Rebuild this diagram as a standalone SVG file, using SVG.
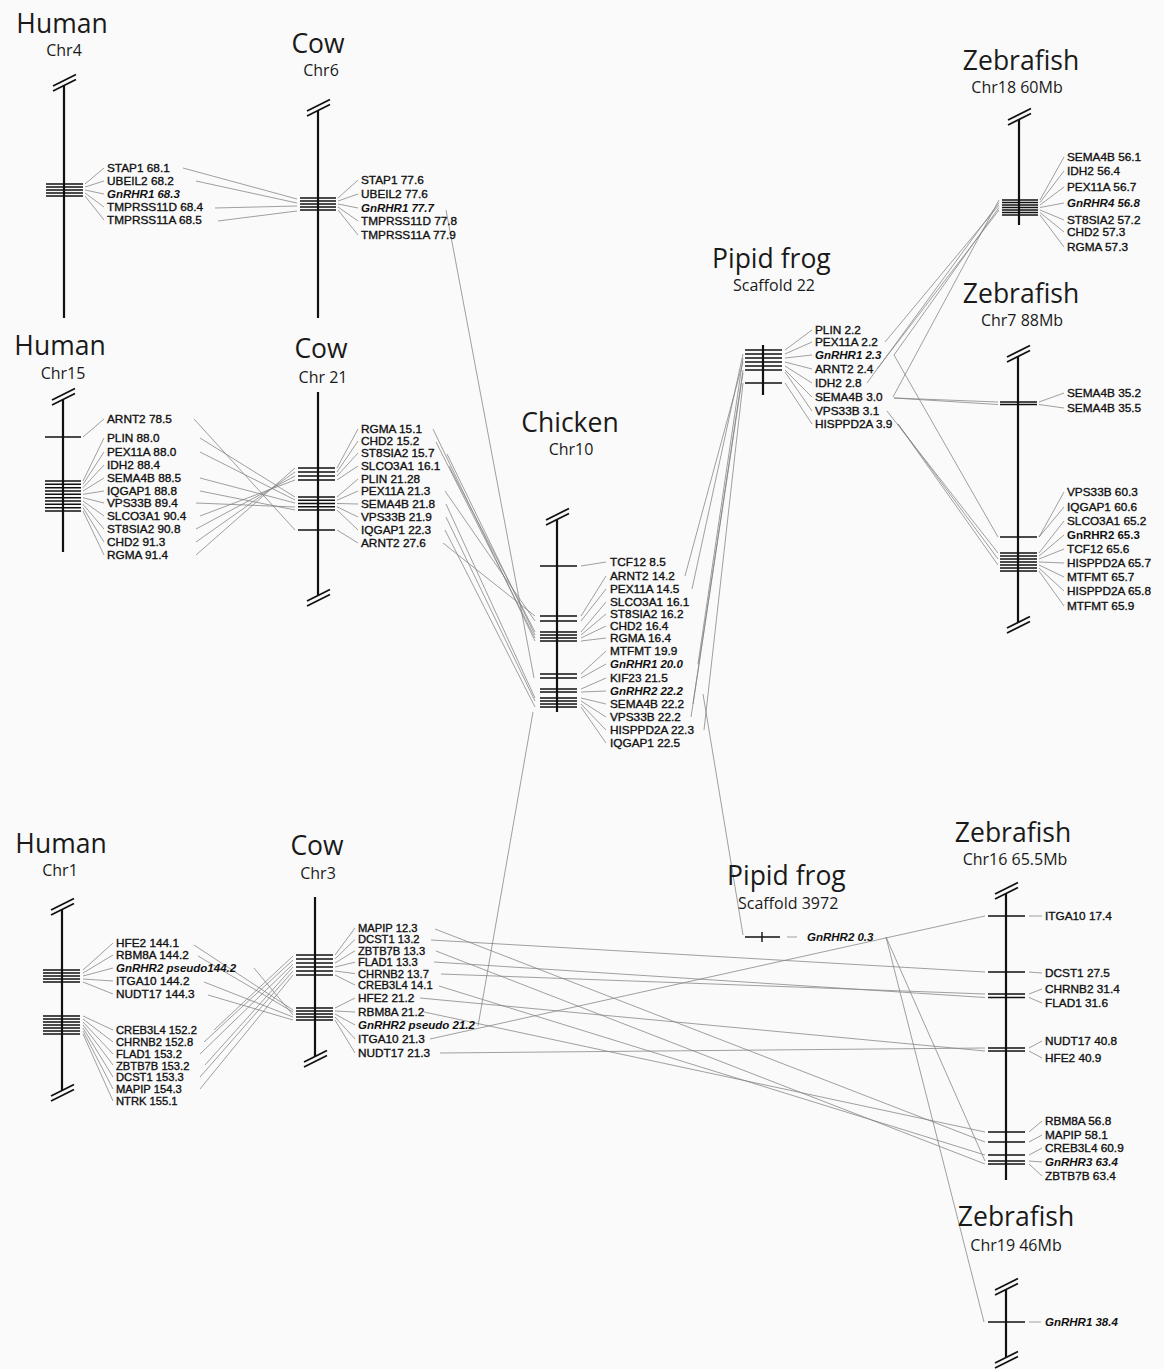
<svg xmlns="http://www.w3.org/2000/svg" xmlns:xlink="http://www.w3.org/1999/xlink" width="1164" height="1369" viewBox="0 0 1164 1369">
<style>
.t{font-family:"Open Sans","Noto Sans",sans-serif;font-size:26.5px;fill:#1a1a1a;text-anchor:middle}
.tl{font-family:"Open Sans","Noto Sans",sans-serif;font-size:26.5px;fill:#1a1a1a}
.s{font-family:"Open Sans","Noto Sans",sans-serif;font-size:16px;fill:#1a1a1a;text-anchor:middle}
.sl{font-family:"Open Sans","Noto Sans",sans-serif;font-size:16px;fill:#1a1a1a}
.g{font-family:"Liberation Sans",Arial,sans-serif;font-size:11.8px;fill:#111;stroke:#111;stroke-width:0.35px}
.g2{font-family:"Liberation Sans",Arial,sans-serif;font-size:11.2px;fill:#111;stroke:#111;stroke-width:0.35px}
.gb{font-family:"Liberation Sans",Arial,sans-serif;font-size:11.5px;font-weight:bold;font-style:italic;fill:#111}
.gbn{font-family:"Liberation Sans",Arial,sans-serif;font-size:11.5px;font-weight:bold;fill:#111}
.ch{stroke:#111;stroke-width:2.2;fill:none}
.tk{stroke:#111;stroke-width:1.4;fill:none}
.ld{stroke:#777;stroke-width:0.7;fill:none}
.cn{stroke:#808080;stroke-width:0.75;fill:none}
.bk{stroke:#111;stroke-width:1.8;fill:none}
</style>
<defs>
<g id="brk"><path class="bk" d="M-11 3L12 -8.5M-11 8L12 -3.5"/></g>
</defs>
<rect width="1164" height="1369" fill="#fafafa"/>

<g id="connectors">
<path class="cn" d="M183 168L297 199M196 181L297 203M215 208L297 206M218 221L297 211"/>
<path class="cn" d="M446 210L534 678"/>
<path class="cn" d="M194 419L295 530M200 438L295 497M200 452L295 500M200 478L295 503M200 491L295 510M196 503L295 507M200 516L295 480M196 529L295 476M196 542L295 472M196 555L295 468"/>
<path class="cn" d="M433 429L535 641M436 442L535 638M447 454L535 635M449 466L535 632M445 491L535 621M446 504L535 698M446 517L535 701M445 530L535 707M443 543L535 616"/>
<path class="cn" d="M685 576L743 362M692 589L743 354M698 664L743 358M693 704L743 370M691 717L743 373M704 730L743 383"/>
<path class="cn" d="M703 694L743 935"/>
<path class="cn" d="M533 712L478 1026"/>
<path class="cn" d="M885 342L999 205M894 355L999 207.5M877 369L999 210M867 383L999 202.5M893 397L999 200"/>
<path class="cn" d="M894 398L998 402M894 398L998 404.5M894 355L998 537M887 411L998 553M898 424L998 559M898 424L998 565"/>
<path class="cn" d="M194 945L293 1010M198 956L293 1012M254 968L293 1015M204 982L293 1017M208 995L293 1020M214 1030L293 956M204 1042L293 960M200 1054L293 964M205 1065L293 967M200 1077L293 971M200 1089L293 975"/>
<path class="cn" d="M435 929L985 1142M431 940L985 972M436 951L985 1164M434 962L985 997.5M441 974L985 994M439 986L985 1155M420 998L985 1051M424 1012L985 1132M430 1039L985 916M440 1053L985 1048"/>
<path class="cn" d="M886 937L985 1161M886 937L984 1322"/>
</g>

<g id="human-chr4">
<text class="t" x="62" y="33">Human</text>
<text class="s" x="64" y="56">Chr4</text>
<use xlink:href="#brk" x="64" y="83"/>
<line class="ch" x1="64" y1="85" x2="64" y2="318"/>
<path class="tk" d="M46 184H83M46 187H83M46 190H83M46 193H83M46 196H83"/>
<path class="ld" d="M85 184L104 168M85 187L104 181M85 190L104 194M85 193L104 207M85 196L104 220"/>
<text class="g" x="107" y="172">STAP1 68.1</text>
<text class="g" x="107" y="185">UBEIL2 68.2</text>
<text class="gb" x="107" y="198">GnRHR1 68.3</text>
<text class="g" x="107" y="211">TMPRSS11D 68.4</text>
<text class="g" x="107" y="224">TMPRSS11A 68.5</text>
</g>

<g id="cow-chr6">
<text class="t" x="318" y="53">Cow</text>
<text class="s" x="321" y="76">Chr6</text>
<use xlink:href="#brk" x="318" y="108"/>
<line class="ch" x1="318" y1="110" x2="318" y2="318"/>
<path class="tk" d="M300 198H336M300 201H336M300 204H336M300 207H336M300 210H336"/>
<path class="ld" d="M338 198L358 180M338 201L358 194M338 204L358 208M338 207L358 221M338 210L358 235"/>
<text class="g" x="361" y="184">STAP1 77.6</text>
<text class="g" x="361" y="198">UBEIL2 77.6</text>
<text class="gb" x="361" y="212">GnRHR1 77.7</text>
<text class="g" x="361" y="225">TMPRSS11D 77.8</text>
<text class="g" x="361" y="239">TMPRSS11A 77.9</text>
</g>

<g id="human-chr15">
<text class="t" x="60" y="355">Human</text>
<text class="s" x="63" y="379">Chr15</text>
<use xlink:href="#brk" x="63" y="397"/>
<line class="ch" x1="63" y1="399" x2="63" y2="552"/>
<path class="tk" d="M45 437H81M45 481H81M45 484.3H81M45 487.7H81M45 491H81M45 494.3H81M45 497.7H81M45 501H81M45 504.3H81M45 507.7H81M45 511H81"/>
<path class="ld" d="M83 437L104 419M83 481L104 438M83 484.3L104 452M83 487.7L104 465M83 491L104 478M83 494.3L104 491M83 497.7L104 503M83 501L104 516M83 504.3L104 529M83 507.7L104 542M83 511L104 555"/>
<text class="g" x="107" y="423">ARNT2 78.5</text>
<text class="g" x="107" y="442">PLIN 88.0</text>
<text class="g" x="107" y="456">PEX11A 88.0</text>
<text class="g" x="107" y="469">IDH2 88.4</text>
<text class="g" x="107" y="482">SEMA4B 88.5</text>
<text class="g" x="107" y="495">IQGAP1 88.8</text>
<text class="g" x="107" y="507">VPS33B 89.4</text>
<text class="g" x="107" y="520">SLCO3A1 90.4</text>
<text class="g" x="107" y="533">ST8SIA2 90.8</text>
<text class="g" x="107" y="546">CHD2 91.3</text>
<text class="g" x="107" y="559">RGMA 91.4</text>
</g>

<g id="cow-chr21">
<text class="t" x="321" y="358">Cow</text>
<text class="s" x="323" y="383">Chr 21</text>
<line class="ch" x1="318" y1="392" x2="318" y2="595.5"/>
<use xlink:href="#brk" x="318" y="598"/>
<path class="tk" d="M298 468H335M298 472H335M298 476H335M298 480H335M298 497H335M298 500.3H335M298 503.5H335M298 506.8H335M298 510H335M298 530H335"/>
<path class="ld" d="M337 468L358 429M337 472L358 441M337 476L358 453M337 480L358 466M337 497L358 479M337 500.3L358 491M337 503.5L358 504M337 506.8L358 517M337 510L358 530M337 530L358 543"/>
<text class="g" x="361" y="433">RGMA 15.1</text>
<text class="g" x="361" y="445">CHD2 15.2</text>
<text class="g" x="361" y="457">ST8SIA2 15.7</text>
<text class="g" x="361" y="470">SLCO3A1 16.1</text>
<text class="g" x="361" y="483">PLIN 21.28</text>
<text class="g" x="361" y="495">PEX11A 21.3</text>
<text class="g" x="361" y="508">SEMA4B 21.8</text>
<text class="g" x="361" y="521">VPS33B 21.9</text>
<text class="g" x="361" y="534">IQGAP1 22.3</text>
<text class="g" x="361" y="547">ARNT2 27.6</text>
</g>

<g id="chicken-chr10">
<text class="t" x="570" y="432">Chicken</text>
<text class="s" x="571" y="455">Chr10</text>
<use xlink:href="#brk" x="557" y="517"/>
<line class="ch" x1="557" y1="519.5" x2="557" y2="712"/>
<path class="tk" d="M540 566H577M540 616H577M540 621H577M540 632H577M540 635H577M540 638H577M540 641H577M540 674H577M540 678H577M540 689H577M540 692H577M540 698H577M540 701H577M540 704H577M540 707H577"/>
<path class="ld" d="M581 566L606 562M581 616L606 576M581 621L606 589M581 632L606 602M581 635L606 614M581 638L606 626M581 641L606 638M581 674L606 651M581 678L606 664M581 689L606 678M581 692L606 691M581 698L606 704M581 701L606 717M581 704L606 730M581 707L606 743"/>
<text class="g" x="610" y="566">TCF12 8.5</text>
<text class="g" x="610" y="580">ARNT2 14.2</text>
<text class="g" x="610" y="593">PEX11A 14.5</text>
<text class="g" x="610" y="606">SLCO3A1 16.1</text>
<text class="g" x="610" y="618">ST8SIA2 16.2</text>
<text class="g" x="610" y="630">CHD2 16.4</text>
<text class="g" x="610" y="642">RGMA 16.4</text>
<text class="g" x="610" y="655">MTFMT 19.9</text>
<text class="gb" x="610" y="668">GnRHR1 20.0</text>
<text class="g" x="610" y="682">KIF23 21.5</text>
<text class="gb" x="610" y="695">GnRHR2 22.2</text>
<text class="g" x="610" y="708">SEMA4B 22.2</text>
<text class="g" x="610" y="721">VPS33B 22.2</text>
<text class="g" x="610" y="734">HISPPD2A 22.3</text>
<text class="g" x="610" y="747">IQGAP1 22.5</text>
</g>

<g id="frog-scaffold22">
<text class="tl" x="712" y="268">Pipid frog</text>
<text class="sl" x="733" y="291">Scaffold 22</text>
<line class="ch" x1="763" y1="345" x2="763" y2="395"/>
<path class="tk" d="M745 350H782M745 354H782M745 358H782M745 362H782M745 366H782M745 370H782M745 383H782"/>
<path class="ld" d="M785 350L812 330M785 354L812 342M785 358L812 355M785 362L812 369M785 366L812 383M785 370L812 397M785 372L812 411M785 383L812 424"/>
<text class="g" x="815" y="334">PLIN 2.2</text>
<text class="g" x="815" y="346">PEX11A 2.2</text>
<text class="gb" x="815" y="359">GnRHR1 2.3</text>
<text class="g" x="815" y="373">ARNT2 2.4</text>
<text class="g" x="815" y="387">IDH2 2.8</text>
<text class="g" x="815" y="401">SEMA4B 3.0</text>
<text class="g" x="815" y="415">VPS33B 3.1</text>
<text class="g" x="815" y="428">HISPPD2A 3.9</text>
</g>

<g id="zebrafish-chr18">
<text class="t" x="1021" y="70">Zebrafish</text>
<text class="s" x="1017" y="93">Chr18 60Mb</text>
<use xlink:href="#brk" x="1019" y="117"/>
<line class="ch" x1="1019" y1="119.5" x2="1019" y2="225"/>
<path class="tk" d="M1002 200H1038M1002 202.5H1038M1002 205H1038M1002 207.5H1038M1002 210H1038M1002 212.5H1038M1002 215H1038"/>
<path class="ld" d="M1040 200L1064 157M1040 202.5L1064 171M1040 205L1064 187M1040 207.5L1064 203M1040 210L1064 220M1040 212.5L1064 232M1040 215L1064 247"/>
<text class="g" x="1067" y="161">SEMA4B 56.1</text>
<text class="g" x="1067" y="175">IDH2 56.4</text>
<text class="g" x="1067" y="191">PEX11A 56.7</text>
<text class="gb" x="1067" y="207">GnRHR4 56.8</text>
<text class="g" x="1067" y="224">ST8SIA2 57.2</text>
<text class="g" x="1067" y="236">CHD2 57.3</text>
<text class="g" x="1067" y="251">RGMA 57.3</text>
</g>

<g id="zebrafish-chr7">
<text class="t" x="1021" y="303">Zebrafish</text>
<text class="s" x="1022" y="326">Chr7 88Mb</text>
<use xlink:href="#brk" x="1018" y="354"/>
<line class="ch" x1="1018" y1="356.5" x2="1018" y2="622.5"/>
<use xlink:href="#brk" x="1018" y="625"/>
<path class="tk" d="M1000 402H1037M1000 404.5H1037M1000 537H1037M1000 553H1037M1000 556H1037M1000 559H1037M1000 562H1037M1000 565H1037M1000 568H1037M1000 571H1037"/>
<path class="ld" d="M1039 402L1064 393M1039 404.5L1064 408M1039 537L1064 492M1039 537L1064 507M1039 553L1064 521M1039 556L1064 535M1039 559L1064 549M1039 562L1064 563M1039 565L1064 577M1039 568L1064 591M1039 571L1064 606"/>
<text class="g" x="1067" y="397">SEMA4B 35.2</text>
<text class="g" x="1067" y="412">SEMA4B 35.5</text>
<text class="g" x="1067" y="496">VPS33B 60.3</text>
<text class="g" x="1067" y="511">IQGAP1 60.6</text>
<text class="g" x="1067" y="525">SLCO3A1 65.2</text>
<text class="gbn" x="1067" y="539">GnRHR2 65.3</text>
<text class="g" x="1067" y="553">TCF12 65.6</text>
<text class="g" x="1067" y="567">HISPPD2A 65.7</text>
<text class="g" x="1067" y="581">MTFMT 65.7</text>
<text class="g" x="1067" y="595">HISPPD2A 65.8</text>
<text class="g" x="1067" y="610">MTFMT 65.9</text>
</g>

<g id="human-chr1">
<text class="t" x="61" y="853">Human</text>
<text class="s" x="60" y="876">Chr1</text>
<use xlink:href="#brk" x="62" y="907"/>
<line class="ch" x1="62" y1="909.5" x2="62" y2="1090.5"/>
<use xlink:href="#brk" x="62" y="1093"/>
<path class="tk" d="M43 970H80M43 973H80M43 976H80M43 979H80M43 982H80M43 1016H80M43 1019H80M43 1022H80M43 1025H80M43 1028H80M43 1031H80M43 1034H80"/>
<path class="ld" d="M83 970L113 943M83 973L113 955M83 976L113 968M83 979L113 981M83 982L113 994M83 1016L113 1030M83 1019L113 1042M83 1022L113 1054M83 1025L113 1065M83 1028L113 1077M83 1031L113 1089M83 1034L113 1101"/>
<text class="g" x="116" y="947">HFE2 144.1</text>
<text class="g" x="116" y="959">RBM8A 144.2</text>
<text class="gb" x="116" y="972">GnRHR2 pseudo144.2</text>
<text class="g" x="116" y="985">ITGA10 144.2</text>
<text class="g" x="116" y="998">NUDT17 144.3</text>
<text class="g2" x="116" y="1034">CREB3L4 152.2</text>
<text class="g2" x="116" y="1046">CHRNB2 152.8</text>
<text class="g2" x="116" y="1058">FLAD1 153.2</text>
<text class="g2" x="116" y="1069.5">ZBTB7B 153.2</text>
<text class="g2" x="116" y="1081.3">DCST1 153.3</text>
<text class="g2" x="116" y="1093">MAPIP 154.3</text>
<text class="g2" x="116" y="1105">NTRK 155.1</text>
</g>

<g id="cow-chr3">
<text class="t" x="317" y="855">Cow</text>
<text class="s" x="318" y="879">Chr3</text>
<line class="ch" x1="315" y1="897" x2="315" y2="1056.5"/>
<use xlink:href="#brk" x="315" y="1059"/>
<path class="tk" d="M296 955H333M296 959H333M296 963H333M296 967H333M296 971H333M296 975H333M296 1008H333M296 1011H333M296 1014H333M296 1017H333M296 1020H333"/>
<path class="ld" d="M335 955L355 928M335 959L355 939.4M335 963L355 950.8M335 967L355 962.2M335 971L355 973.6M335 975L355 985M335 1008L355 998M335 1011L355 1012M335 1014L355 1025M335 1017L355 1039M335 1020L355 1053"/>
<text class="g2" x="358" y="932">MAPIP 12.3</text>
<text class="g2" x="358" y="943.4">DCST1 13.2</text>
<text class="g2" x="358" y="954.8">ZBTB7B 13.3</text>
<text class="g2" x="358" y="966.2">FLAD1 13.3</text>
<text class="g2" x="358" y="977.6">CHRNB2 13.7</text>
<text class="g2" x="358" y="989">CREB3L4 14.1</text>
<text class="g" x="358" y="1002">HFE2 21.2</text>
<text class="g" x="358" y="1016">RBM8A 21.2</text>
<text class="gb" x="358" y="1029">GnRHR2 pseudo 21.2</text>
<text class="g" x="358" y="1043">ITGA10 21.3</text>
<text class="g" x="358" y="1057">NUDT17 21.3</text>
</g>

<g id="frog-scaffold3972">
<text class="tl" x="727" y="885">Pipid frog</text>
<text class="sl" x="738" y="909">Scaffold 3972</text>
<path class="tk" d="M745 937H780M762 932V942"/>
<path class="ld" d="M787 937H797"/>
<text class="gb" x="807" y="941">GnRHR2 0.3</text>
</g>

<g id="zebrafish-chr16">
<text class="t" x="1013" y="842">Zebrafish</text>
<text class="s" x="1015" y="865">Chr16 65.5Mb</text>
<use xlink:href="#brk" x="1006" y="891"/>
<line class="ch" x1="1006" y1="893.5" x2="1006" y2="1180"/>
<path class="tk" d="M988 916H1025M988 972H1025M988 994H1025M988 997.5H1025M988 1048H1025M988 1051H1025M988 1132H1025M988 1142H1025M988 1155H1025M988 1161H1025M988 1164H1025"/>
<path class="ld" d="M1029 916L1042 916M1029 972L1042 973M1029 994L1042 989M1029 997.5L1042 1003M1029 1048L1042 1041M1029 1051L1042 1058M1029 1132L1042 1121M1029 1142L1042 1135M1029 1155L1042 1148M1029 1161L1042 1162M1029 1164L1042 1176"/>
<text class="g" x="1045" y="920">ITGA10 17.4</text>
<text class="g" x="1045" y="977">DCST1 27.5</text>
<text class="g" x="1045" y="993">CHRNB2 31.4</text>
<text class="g" x="1045" y="1007">FLAD1 31.6</text>
<text class="g" x="1045" y="1045">NUDT17 40.8</text>
<text class="g" x="1045" y="1062">HFE2 40.9</text>
<text class="g" x="1045" y="1125">RBM8A 56.8</text>
<text class="g" x="1045" y="1139">MAPIP 58.1</text>
<text class="g" x="1045" y="1152">CREB3L4 60.9</text>
<text class="gb" x="1045" y="1166">GnRHR3 63.4</text>
<text class="g" x="1045" y="1180">ZBTB7B 63.4</text>
</g>

<g id="zebrafish-chr19">
<text class="t" x="1016" y="1226">Zebrafish</text>
<text class="s" x="1016" y="1251">Chr19 46Mb</text>
<use xlink:href="#brk" x="1006" y="1287"/>
<line class="ch" x1="1006" y1="1289.5" x2="1006" y2="1357.5"/>
<use xlink:href="#brk" x="1006" y="1360"/>
<path class="tk" d="M988 1322H1025"/>
<path class="ld" d="M1029 1322H1041"/>
<text class="gb" x="1045" y="1326">GnRHR1 38.4</text>
</g>
</svg>
